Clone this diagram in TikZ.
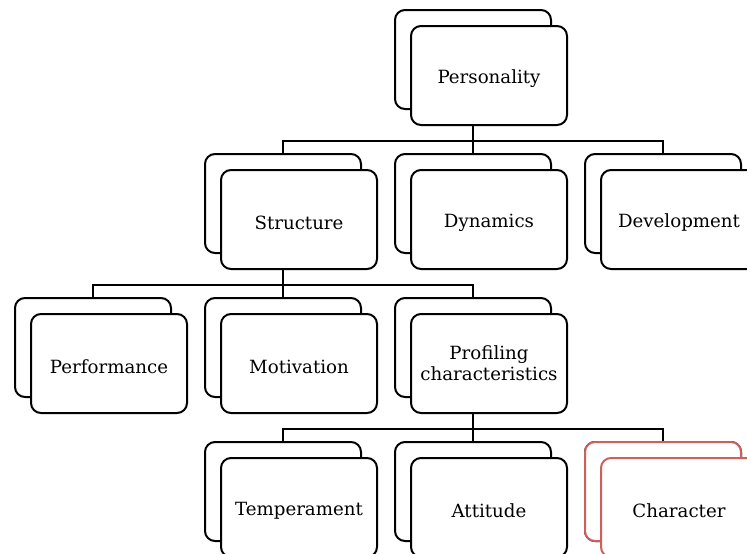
\documentclass[tikz,border=0pt]{standalone}
\usepackage{fontspec}
\setmainfont{DejaVu Serif}
\usepackage{tikz}
\usetikzlibrary{shapes,shadows}

\definecolor{charred}{RGB}{204,96,90}

\begin{document}
\begin{tikzpicture}[semithick,node distance=144pt,font=\fontsize{18.2}{21.5}\selectfont]
\tikzstyle{box}=[draw=black,line width=2pt,fill=white,rounded corners=10pt,
  minimum width=156pt,minimum height=99pt,align=center,
  execute at begin node={\rule[-1pt]{0pt}{21pt}},
  copy shadow={shadow xshift=-16pt,shadow yshift=16pt,draw=black,fill=white,line width=2pt}]
\tikzstyle{redbox}=[box,draw=charred,
  copy shadow={shadow xshift=-16pt,shadow yshift=16pt,draw=charred,fill=white,line width=2pt}]
\tikzstyle{link}=[line width=2pt]
\useasboundingbox (0,0) rectangle (747pt,-554pt);
\clip (0,0) rectangle (747pt,-554pt);

\node[box] (P) at (489pt,-75.5pt) {Personality};
\node[box][below of=P](D){Dynamics};
\node[box][left of=D,node distance=190pt](S){Structure};
\node[box][right of=D,node distance=190pt](Dev){Development};
\node[box][below of=S](M){Motivation};
\node[box][left of=M,node distance=190pt](Perf){Performance};
\node[box][right of=M,node distance=190pt](Prof){Profiling\\characteristics};
\node[box][below of=M](T){Temperament};
\node[box][right of=T,node distance=190pt](A){Attitude};
\node[redbox][right of=A,node distance=190pt](C){Character};

% tree links
\foreach \parent/\kids in {P/{S,D,Dev},S/{Perf,M,Prof},Prof/{T,A,C}}
  \foreach \kid in \kids
    \draw[link] ([xshift=-16pt]\parent.south) -- ++(0,-14.5pt)
      -| ([xshift=-16pt,yshift=16pt]\kid.north);
\end{tikzpicture}
\end{document}
